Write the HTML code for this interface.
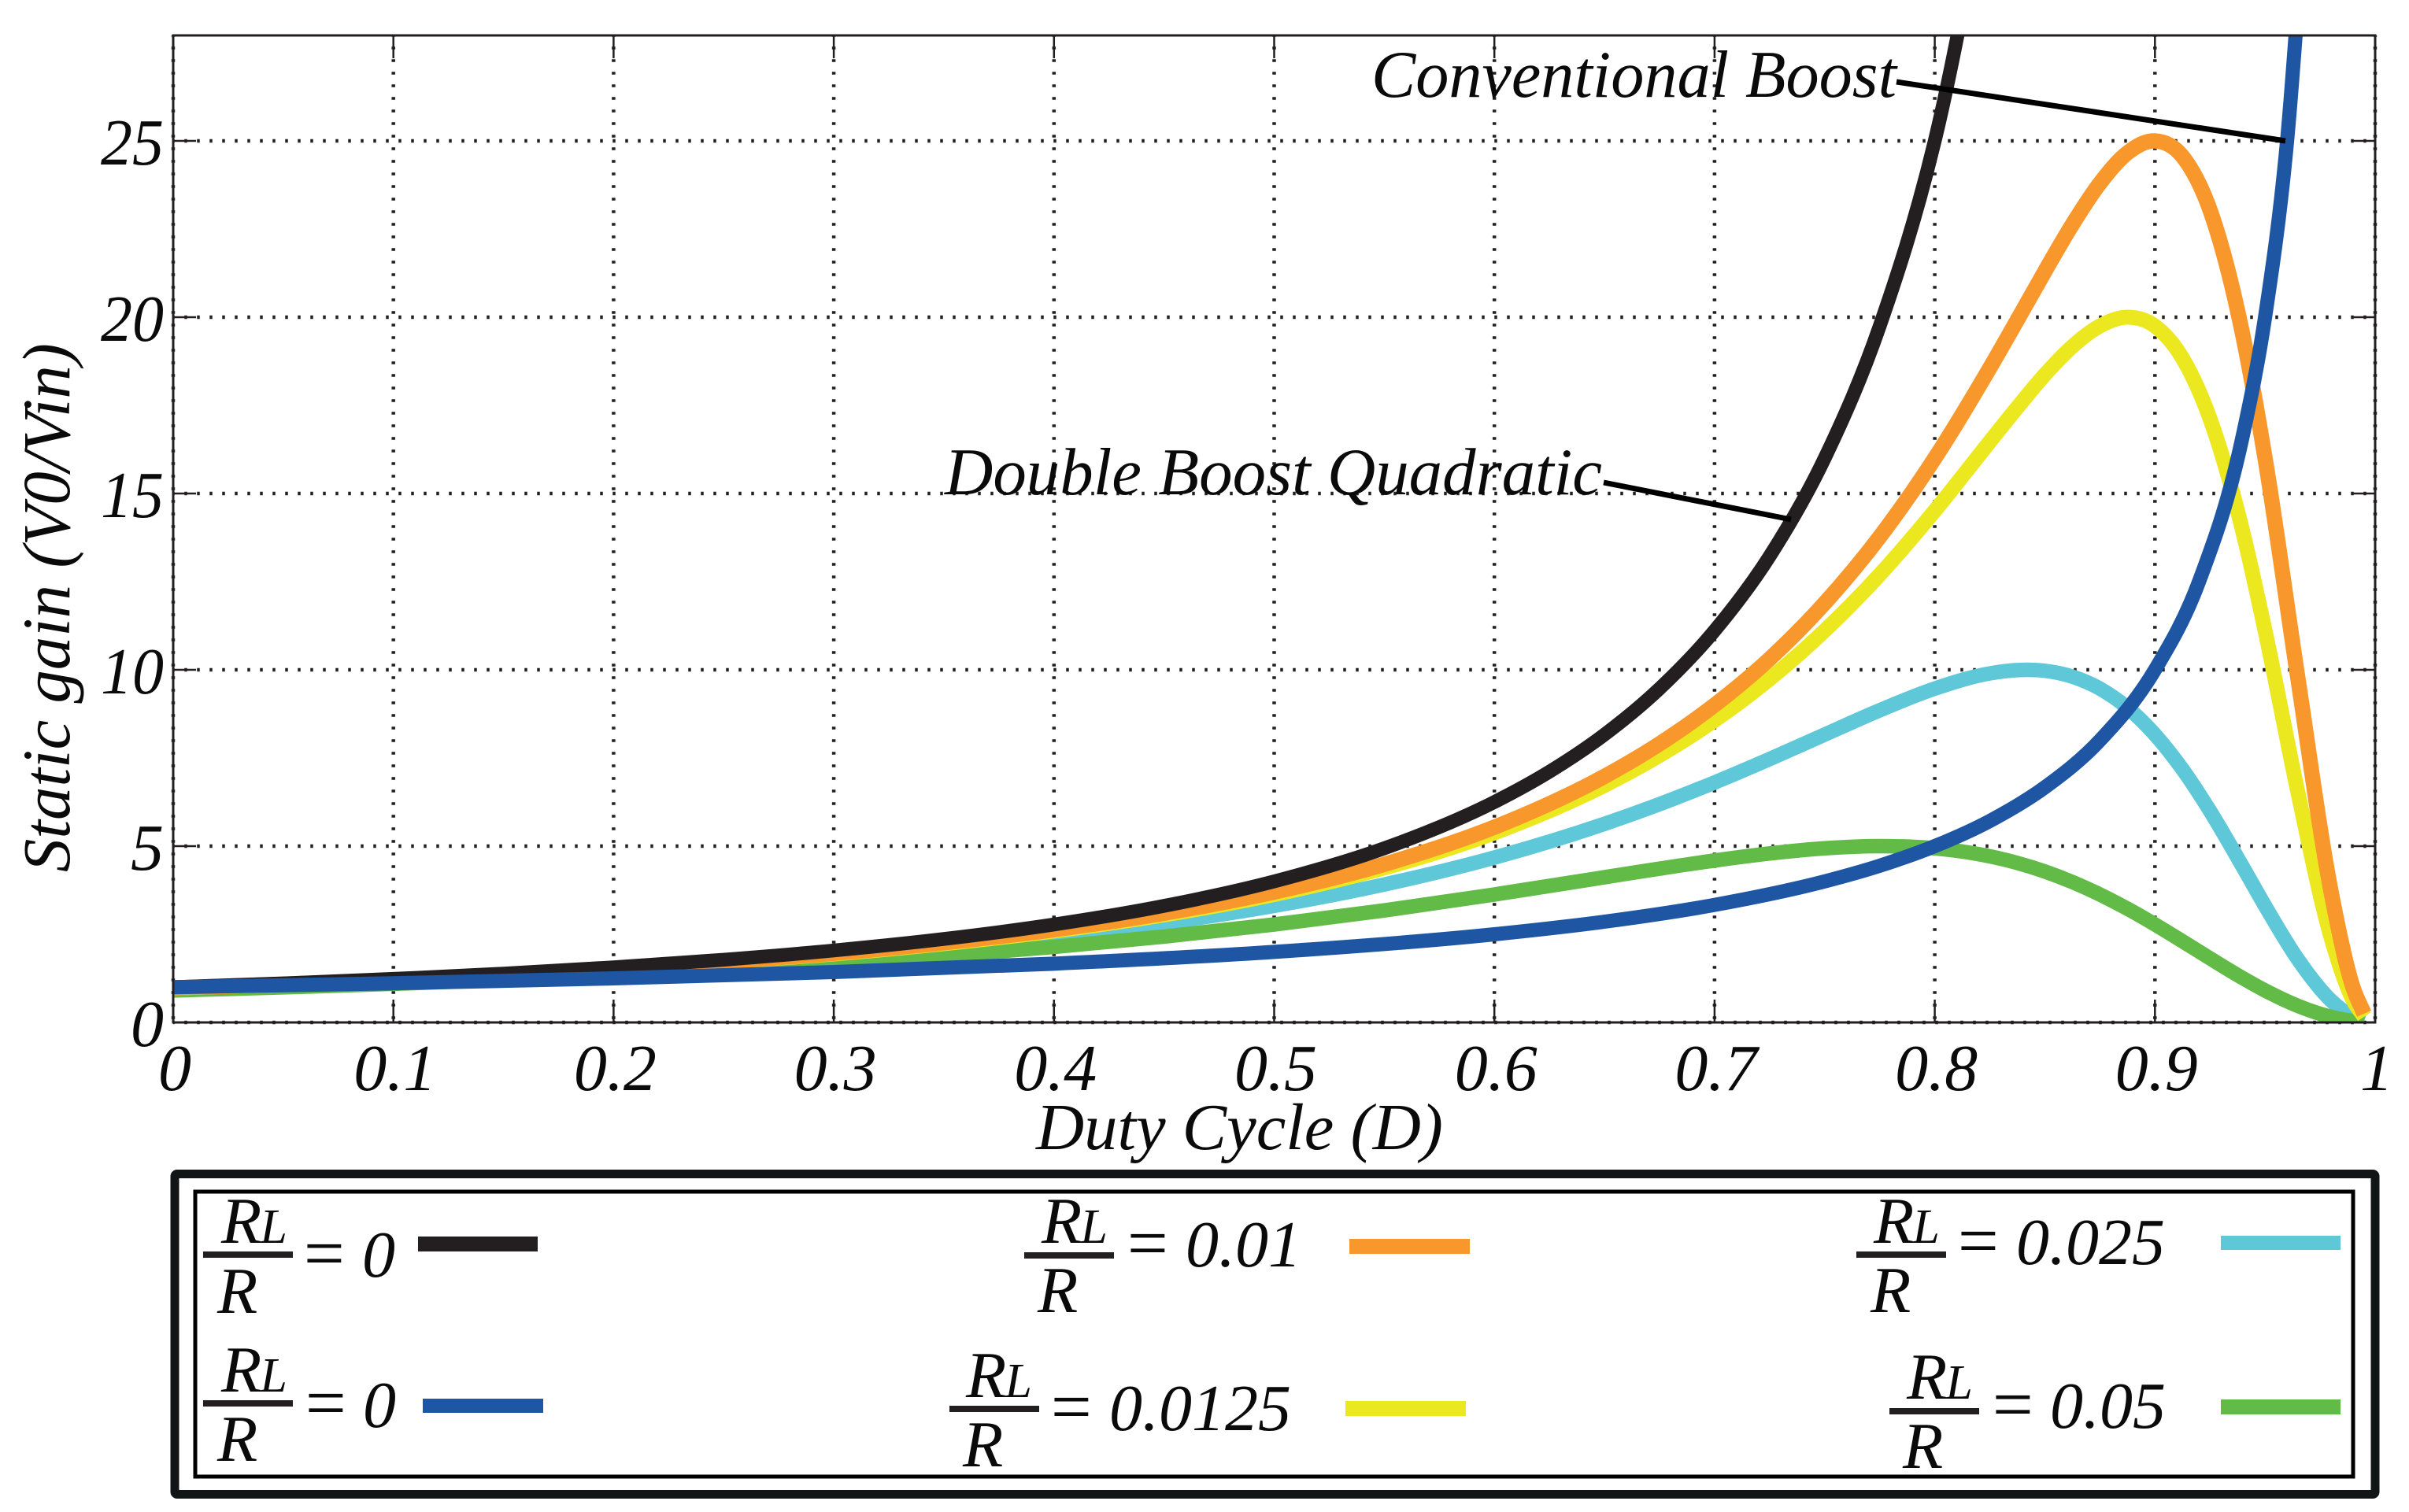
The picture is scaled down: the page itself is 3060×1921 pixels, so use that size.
<!DOCTYPE html>
<html lang="en">
<head>
<meta charset="utf-8">
<title>Static gain versus duty cycle</title>
<style>
html,body{margin:0;padding:0;background:#fff;width:3060px;height:1921px;overflow:hidden}
svg{display:block}
text{font-family:"Liberation Serif",serif;font-style:italic;fill:#0a0a0a}
.t84{font-size:84px}
.eq{font-size:92px}
.sub{font-size:62px}
</style>
</head>
<body>
<svg id="chart" xmlns="http://www.w3.org/2000/svg" width="3060" height="1921" viewBox="0 0 3060 1921">
  <defs>
    <clipPath id="plot-clip"><rect x="220" y="45" width="2797" height="1254"/></clipPath>
  </defs>
  <rect x="0" y="0" width="3060" height="1921" fill="#fff"/>
  <g id="grid"></g>
  <g id="series" clip-path="url(#plot-clip)"></g>
  <g id="axes"></g>

  <text transform="translate(88,1108) rotate(-90)" textLength="672" lengthAdjust="spacingAndGlyphs" style="font-size:86px">Static gain (V0/Vin)</text>
  <text x="1316" y="1460" textLength="517" lengthAdjust="spacingAndGlyphs" style="font-size:84px">Duty Cycle (D)</text>

  <text x="1742" y="123" textLength="667" lengthAdjust="spacingAndGlyphs" style="font-size:85px">Conventional Boost</text>
  <line x1="2409" y1="104" x2="2903" y2="179" stroke="#000" stroke-width="7"/>
  <text x="1200" y="628" textLength="835" lengthAdjust="spacingAndGlyphs" style="font-size:85px">Double Boost Quadratic</text>
  <line x1="2037" y1="613" x2="2275" y2="660" stroke="#000" stroke-width="7"/>

  <g>
    <rect x="222" y="1491.5" width="2795" height="407" rx="3" fill="none" stroke="#111516" stroke-width="11"/>
    <rect x="248" y="1514" width="2741" height="362" fill="none" stroke="#000" stroke-width="5"/>

    <g>
      <text class="t84" x="281" y="1579">R<tspan class="sub" dx="-2">L</tspan></text>
      <rect x="258" y="1590" width="114" height="8" fill="#231f20"/>
      <text class="t84" x="276" y="1668">R</text>
      <text class="eq" x="380" y="1623">=</text>
      <text class="t84" x="460" y="1622">0</text>
      <rect x="531" y="1571" width="152" height="19" fill="#231f20"/>
    </g>
    <g>
      <text class="t84" x="281" y="1768">R<tspan class="sub" dx="-2">L</tspan></text>
      <rect x="258" y="1779" width="114" height="8" fill="#231f20"/>
      <text class="t84" x="276" y="1856">R</text>
      <text class="eq" x="382" y="1813">=</text>
      <text class="t84" x="461" y="1813">0</text>
      <rect x="537" y="1777" width="153" height="18" fill="#1e56a4"/>
    </g>
    <g>
      <text class="t84" x="1323" y="1579">R<tspan class="sub" dx="-2">L</tspan></text>
      <rect x="1301" y="1591" width="114" height="8" fill="#231f20"/>
      <text class="t84" x="1318" y="1667">R</text>
      <text class="eq" x="1426" y="1610">=</text>
      <text class="t84" x="1506" y="1609">0.01</text>
      <rect x="1714" y="1574" width="153" height="19" fill="#f8972c"/>
    </g>
    <g>
      <text class="t84" x="1227" y="1775">R<tspan class="sub" dx="-2">L</tspan></text>
      <rect x="1206" y="1786" width="114" height="8" fill="#231f20"/>
      <text class="t84" x="1223" y="1863">R</text>
      <text class="eq" x="1329" y="1818">=</text>
      <text class="t84" x="1409" y="1817">0.0125</text>
      <rect x="1709" y="1780" width="153" height="19" fill="#ece81f"/>
    </g>
    <g>
      <text class="t84" x="2380" y="1579">R<tspan class="sub" dx="-2">L</tspan></text>
      <rect x="2358" y="1590" width="114" height="8" fill="#231f20"/>
      <text class="t84" x="2376" y="1667">R</text>
      <text class="eq" x="2481" y="1607">=</text>
      <text class="t84" x="2561" y="1606">0.025</text>
      <rect x="2821" y="1570" width="152" height="18" fill="#5ec8d8"/>
    </g>
    <g>
      <text class="t84" x="2422" y="1777">R<tspan class="sub" dx="-2">L</tspan></text>
      <rect x="2400" y="1789" width="114" height="8" fill="#231f20"/>
      <text class="t84" x="2417" y="1865">R</text>
      <text class="eq" x="2525" y="1815">=</text>
      <text class="t84" x="2604" y="1814">0.05</text>
      <rect x="2821" y="1778" width="152" height="19" fill="#62bb46"/>
    </g>
  </g>
</svg>
<script>
// Tick values and labels
const xTickValues = [0, 0.1, 0.2, 0.3, 0.4, 0.5, 0.6, 0.7, 0.8, 0.9, 1];
const xTickLabels = ["0", "0.1", "0.2", "0.3", "0.4", "0.5", "0.6", "0.7", "0.8", "0.9", "1"];
const yTickValues = [0, 5, 10, 15, 20, 25];
const yTickLabels = ["0", "5", "10", "15", "20", "25"];

// Duty-cycle samples read for each curve family
const dutyQuadratic = [0, .05, .1, .15, .2, .25, .3, .35, .4, .45, .5, .55, .6, .625, .65, .675, .7, .725, .75, .775, .8, .825];
const dutyConventional = [0, .1, .2, .3, .4, .5, .6, .65, .7, .75, .775, .8, .825, .85, .875, .9, .92, .94, .95, .96, .97];
const dutyLossy = [0, .05, .1, .15, .2, .25, .3, .35, .4, .45, .5, .55, .6, .65, .675, .7, .725, .75, .775, .8, .825, .8375, .85, .8625, .875, .8875, .9, .9125, .925, .94, .95, .965, .98, .99, .995];

// Series values
const gainQuadratic = [1, 1.108, 1.235, 1.384, 1.563, 1.778, 2.041, 2.367, 2.778, 3.306, 4, 4.938, 6.25, 7.111, 8.163, 9.467, 11.11, 13.22, 16, 19.75, 25, 32.65];
const gainConventional = [1, 1.111, 1.25, 1.429, 1.667, 2, 2.5, 2.857, 3.333, 4, 4.444, 5, 5.714, 6.667, 8, 10, 12.5, 16.67, 20, 25, 33.33];
const gain0010 = [.98, 1.084, 1.205, 1.347, 1.515, 1.716, 1.96, 2.259, 2.63, 3.098, 3.698, 4.484, 5.536, 6.978, 7.901, 9, 10.31, 11.89, 13.77, 16, 18.56, 19.92, 21.3, 22.63, 23.8, 24.66, 25, 24.56, 23.04, 19.46, 16, 9.72, 3.7, .98, .249];
const gain00125 = [.975, 1.078, 1.197, 1.337, 1.503, 1.701, 1.941, 2.233, 2.594, 3.049, 3.628, 4.381, 5.377, 6.722, 7.57, 8.566, 9.738, 11.11, 12.7, 14.51, 16.47, 17.44, 18.37, 19.17, 19.75, 20, 19.75, 18.84, 17.12, 13.89, 11.11, 6.5, 2.4, .63, .159];
const gain0025 = [.952, 1.049, 1.162, 1.293, 1.447, 1.63, 1.847, 2.11, 2.429, 2.82, 3.306, 3.912, 4.675, 5.631, 6.19, 6.805, 7.469, 8.163, 8.852, 9.467, 9.898, 9.992, 9.972, 9.807, 9.467, 8.925, 8.163, 7.18, 5.997, 4.4, 3.306, 1.781, .62, .159, .04];
const gain0050 = [.907, .995, 1.095, 1.211, 1.344, 1.499, 1.68, 1.892, 2.142, 2.434, 2.778, 3.176, 3.628, 4.117, 4.361, 4.592, 4.792, 4.938, 5, 4.938, 4.711, 4.523, 4.281, 3.982, 3.628, 3.224, 2.778, 2.303, 1.818, 1.253, .907, .467, .157, .04, .01];

const NS = "http://www.w3.org/2000/svg";
const xScale = d => 220 + d * 2797;
const yScale = v => 1299 - v * 44.8;
const INK = "#231f20";
const gridLayer = document.getElementById("grid");
const axesLayer = document.getElementById("axes");
const seriesLayer = document.getElementById("series");

function line(parent, x1, y1, x2, y2, stroke, width, dash, offset) {
  const el = document.createElementNS(NS, "line");
  el.setAttribute("x1", x1);
  el.setAttribute("y1", y1);
  el.setAttribute("x2", x2);
  el.setAttribute("y2", y2);
  el.setAttribute("stroke", stroke);
  el.setAttribute("stroke-width", width);
  if (dash) {
    el.setAttribute("stroke-dasharray", dash);
    el.setAttribute("stroke-dashoffset", offset);
  }
  parent.appendChild(el);
  return el;
}

function smoothPath(xs, ys) {
  const px = xs.map(xScale);
  const py = ys.map(yScale);
  const n = px.length;
  const slope = i => {
    if (i === 0) return (py[1] - py[0]) / (px[1] - px[0]);
    if (i === n - 1) return (py[n - 1] - py[n - 2]) / (px[n - 1] - px[n - 2]);
    const h0 = px[i] - px[i - 1];
    const h1 = px[i + 1] - px[i];
    const s0 = (py[i] - py[i - 1]) / h0;
    const s1 = (py[i + 1] - py[i]) / h1;
    return (h1 * s0 + h0 * s1) / (h0 + h1);
  };
  let d = "M" + px[0].toFixed(2) + " " + py[0].toFixed(2);
  for (let i = 0; i < n - 1; i++) {
    const h = (px[i + 1] - px[i]) / 3;
    d += "C" + (px[i] + h).toFixed(2) + " " + (py[i] + slope(i) * h).toFixed(2) + " " +
      (px[i + 1] - h).toFixed(2) + " " + (py[i + 1] - slope(i + 1) * h).toFixed(2) + " " +
      px[i + 1].toFixed(2) + " " + py[i + 1].toFixed(2);
  }
  return d;
}

xTickValues.forEach((value, i) => {
  const gx = xScale(value);
  const gridLine = line(gridLayer, gx, 45, gx, 1299, INK, 4.5, "3.5 12.5", 1.75);
  
  
  const tickBottom = line(axesLayer, gx, 1299, gx, 1270, INK, 2.5);
  
  
  const tickTop = line(axesLayer, gx, 45, gx, 74, INK, 2.5);
  
  
  const label = document.createElementNS(NS, "text");
  
  
  label.setAttribute("class", "t84");
  label.setAttribute("x", gx + 2);
  label.setAttribute("y", 1385);
  label.setAttribute("text-anchor", "middle");
  label.textContent = xTickLabels[i];
  axesLayer.appendChild(label);
});

yTickValues.forEach((value, i) => {
  const gy = yScale(value);
  const gridLine = line(gridLayer, 220, gy, 3017, gy, INK, 4.5, "3.5 12.5", 1.75);
  
  
  const tickLeft = line(axesLayer, 220, gy, 249, gy, INK, 2.5);
  
  
  const tickRight = line(axesLayer, 3017, gy, 2988, gy, INK, 2.5);
  
  
  const label = document.createElementNS(NS, "text");
  
  
  label.setAttribute("class", "t84");
  label.setAttribute("x", 208);
  label.setAttribute("y", gy + 30);
  label.setAttribute("text-anchor", "end");
  if (yTickLabels[i].length > 1) {
    label.setAttribute("textLength", 80);
    label.setAttribute("lengthAdjust", "spacingAndGlyphs");
  }
  label.textContent = yTickLabels[i];
  axesLayer.appendChild(label);
});

const frame = document.createElementNS(NS, "rect");


frame.setAttribute("x", 220);
frame.setAttribute("y", 45);
frame.setAttribute("width", 2797);
frame.setAttribute("height", 1254);
frame.setAttribute("fill", "none");
frame.setAttribute("stroke", INK);
frame.setAttribute("stroke-width", 3);
axesLayer.appendChild(frame);

function drawSeries(xs, ys, color, width) {
  const path = document.createElementNS(NS, "path");
  path.setAttribute("d", smoothPath(xs, ys));
  path.setAttribute("fill", "none");
  path.setAttribute("stroke", color);
  path.setAttribute("stroke-width", width);
  path.setAttribute("stroke-linejoin", "round");
  seriesLayer.appendChild(path);
  return path;
}

const curveCyan = drawSeries(dutyLossy, gain0025, "#5ec8d8", 18.5);


const curveGreen = drawSeries(dutyLossy, gain0050, "#62bb46", 18.5);


const curveYellow = drawSeries(dutyLossy, gain00125, "#ece81f", 19);


const curveOrange = drawSeries(dutyLossy, gain0010, "#f8972c", 19.5);


const curveBlack = drawSeries(dutyQuadratic, gainQuadratic, "#231f20", 17.5);


const curveBlue = drawSeries(dutyConventional, gainConventional, "#1e56a4", 18);


</script>
</body>
</html>
